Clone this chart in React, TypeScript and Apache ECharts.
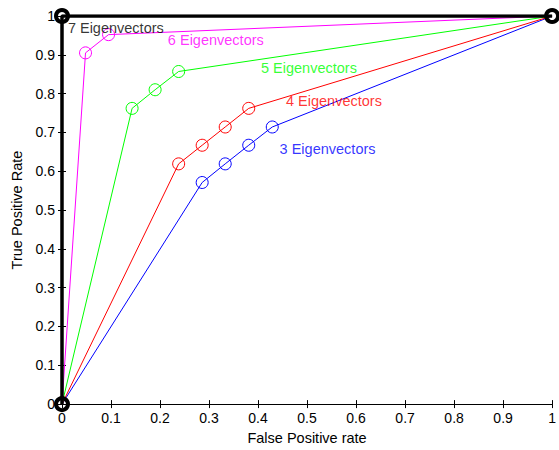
import React, { useEffect, useRef } from "react";
import * as echarts from "echarts";

const ticks = [0, 0.1, 0.2, 0.3, 0.4, 0.5, 0.6, 0.7, 0.8, 0.9, 1];

const ev3: [number, number][] = [[0, 0], [0.286, 0.571], [0.333, 0.619], [0.381, 0.667], [0.429, 0.714], [1, 1]];
const ev4: [number, number][] = [[0, 0], [0.238, 0.619], [0.286, 0.667], [0.333, 0.714], [0.381, 0.762], [1, 1]];
const ev5: [number, number][] = [[0, 0], [0.143, 0.762], [0.19, 0.81], [0.238, 0.857], [1, 1]];
const ev6: [number, number][] = [[0, 0], [0.048, 0.905], [0.095, 0.952], [1, 1]];
const ev7: [number, number][] = [[0, 0], [0, 1], [1, 1]];

const seriesNames = ["3 Eigenvectors", "4 Eigenvectors", "5 Eigenvectors", "6 Eigenvectors", "7 Eigenvectors"];
const seriesColors = ["#0000ff", "#ff0000", "#00ff00", "#ff00ff", "#000000"];
const labelPos: [number, number][] = [[0.444, 0.658], [0.457, 0.781], [0.406, 0.865], [0.216, 0.939], [0.012, 0.969]];

const FONT = "'Liberation Sans', Arial, Helvetica, sans-serif";

export default function App() {
  const ref = useRef<HTMLDivElement>(null);
  useEffect(() => {
    const chart = echarts.init(ref.current!, null, { renderer: "svg" });
    const datas = [ev3, ev4, ev5, ev6, ev7];
    const lineSeries = datas.map((d, i) => {
      const black = i === 4;
      const bw = black ? 4 : 1;
      return {
        type: "line",
        name: seriesNames[i],
        data: d.map((p, j) => ({
          value: p,
          symbol: !black && (j === 0 || j === d.length - 1) ? "none" : "circle",
        })),
        showAllSymbol: true,
        symbolSize: black ? 12 : 12,
        z: black ? 10 : 5,
        lineStyle: { color: seriesColors[i], width: black ? 3.5 : 1 },
        itemStyle: { color: "rgba(255,255,255,0)", borderColor: seriesColors[i], borderWidth: bw },
        emphasis: { disabled: true },
      };
    });
    const labelSeries = {
      type: "scatter",
      symbolSize: 0,
      z: 20,
      data: labelPos.map((p, i) => ({
        value: p,
        name: seriesNames[i],
        label: {
          show: true,
          position: "right",
          distance: 0,
          formatter: seriesNames[i],
          color: seriesColors[i],
          fontSize: 14.5,
          fontFamily: FONT,
        },
      })),
    };
    const axisCommon = {
      type: "value",
      min: 0,
      max: 1,
      interval: 0.1,
      splitLine: { show: false },
      axisLine: { show: true, lineStyle: { color: "#000", width: 1 } },
      axisTick: { show: true, inside: true, length: 4, lineStyle: { color: "#000" } },
    };
    const fmt = (v: number) => {
      const t = ticks.find((x) => Math.abs(x - v) < 1e-6);
      return t === undefined ? "" : String(t);
    };
    chart.setOption({
      animation: false,
      backgroundColor: "#fff",
      grid: { left: 62, right: 2, top: 16, bottom: 42, containLabel: false },
      xAxis: [
        {
          ...axisCommon,
          position: "bottom",
          name: "False Positive rate",
          nameLocation: "middle",
          nameGap: 22,
          nameTextStyle: { color: "#000", fontSize: 14.5, fontFamily: FONT },
          axisLabel: { color: "#000", fontSize: 14, fontFamily: FONT, margin: 7, formatter: fmt },
        },
        {
          ...axisCommon,
          position: "top",
          axisLabel: { show: false },
        },
      ],
      yAxis: [
        {
          ...axisCommon,
          position: "left",
          name: "True Positive Rate",
          nameLocation: "middle",
          nameGap: 37,
          nameRotate: 90,
          nameTextStyle: { color: "#000", fontSize: 14.5, fontFamily: FONT },
          axisLabel: { color: "#000", fontSize: 14, fontFamily: FONT, margin: 7, formatter: fmt },
        },
        {
          ...axisCommon,
          position: "right",
          axisLabel: { show: false },
        },
      ],
      series: [...lineSeries, labelSeries],
    });
    return () => chart.dispose();
  }, []);
  return <div ref={ref} style={{ width: 559, height: 450, position: "absolute", left: 0, top: 0 }} />;
}
